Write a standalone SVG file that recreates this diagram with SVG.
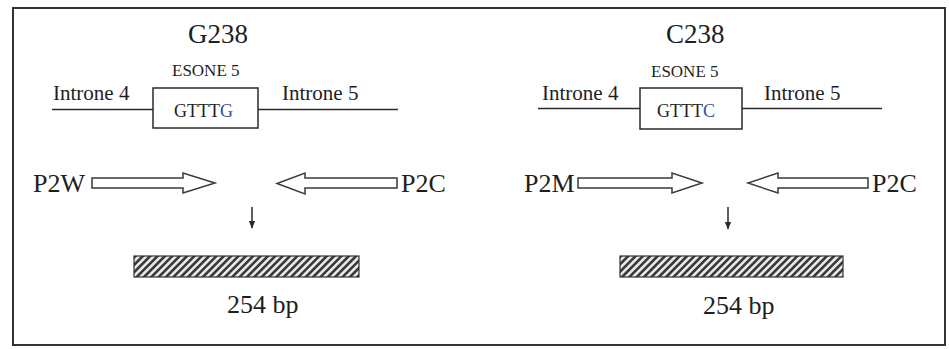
<svg xmlns="http://www.w3.org/2000/svg" width="949" height="349" viewBox="0 0 949 349" font-family="'Liberation Serif', 'DejaVu Serif', serif">
<defs>
<style>
text{font-family:'Liberation Serif','DejaVu Serif',serif;fill:#1e1e1e}
.title{font-size:27px}
.exon{font-size:17px}
.intron{font-size:21px}
.seq{font-size:18px}
.primer{font-size:26px}
.bp{font-size:26px}
.blue{fill:#2f4f9f}
.dna{stroke:#2a2a2a;stroke-width:1.5;fill:none}
.box{stroke:#2a2a2a;stroke-width:1.5;fill:#fff}
.parrow{stroke:#3a3a3a;stroke-width:1.5;fill:#fff;stroke-linejoin:miter}
.down{stroke:#2a2a2a;stroke-width:1.5;fill:none}
.band{fill:url(#hatch);stroke:#333;stroke-width:1.2}
</style>
<pattern id="hatch" patternUnits="userSpaceOnUse" width="5.2" height="5.2" patternTransform="rotate(45)">
<rect width="5.2" height="5.2" fill="#e8e8e8"/>
<rect x="0" y="0" width="2.6" height="5.2" fill="#3a3a3a"/>
</pattern>
<marker id="tip" viewBox="0 0 10 10" refX="9" refY="5" markerWidth="8" markerHeight="8" markerUnits="userSpaceOnUse" orient="auto">
<path d="M0,1 L10,5 L0,9 Z" fill="#2a2a2a"/>
</marker>
</defs>
<rect x="0" y="0" width="949" height="349" fill="#fff"/>
<rect id="frame" x="13" y="8" width="932" height="337" fill="none" stroke="#333" stroke-width="2"/>

<g id="g238">
<text class="title" x="188" y="43">G238</text>
<text class="exon" x="172" y="76">ESONE 5</text>
<text class="intron" x="53" y="100">Introne 4</text>
<text class="intron" x="282" y="100">Introne 5</text>
</g>
<g id="g238-gene">
<rect class="box" x="153" y="88" width="105" height="40"/>
<text class="seq" x="174" y="117">GTTT<tspan class="blue">G</tspan></text>
</g>
<g id="p2w">
<text class="primer" x="33" y="192">P2W</text>
<path class="parrow" d="M92,178 L183,178 L183,173 L215,183 L183,193 L183,188 L92,188 Z"/>
</g>
<g id="p2c-left">
<path class="parrow" d="M397,178 L305,178 L305,173 L277,183.5 L305,194 L305,188 L397,188 Z"/>
<text class="primer" x="401" y="192">P2C</text>
</g>
<g id="band-left">
<rect class="band" x="134" y="256" width="225" height="21"/>
<text class="bp" x="227" y="313">254 bp</text>
</g>

<g id="c238">
<text class="title" x="666" y="43">C238</text>
<text class="exon" x="651" y="77">ESONE 5</text>
<text class="intron" x="542" y="100">Introne 4</text>
<text class="intron" x="764" y="100">Introne 5</text>
</g>
<g id="c238-gene">
<rect class="box" x="640" y="88" width="102" height="41"/>
<text class="seq" x="657" y="117">GTTT<tspan class="blue">C</tspan></text>
</g>
<g id="p2m">
<text class="primer" x="524" y="192">P2M</text>
<path class="parrow" d="M578,178 L672,178 L672,173 L702,183 L672,193 L672,188 L578,188 Z"/>
</g>
<g id="p2c-right">
<path class="parrow" d="M868,178 L778,178 L778,173 L748,183 L778,193 L778,188 L868,188 Z"/>
<text class="primer" x="872" y="192">P2C</text>
</g>
<g id="band-right">
<rect class="band" x="620" y="256" width="223" height="21"/>
<text class="bp" x="703" y="314">254 bp</text>
</g>

<g id="connectors">
<line class="dna" x1="52" y1="109.5" x2="153" y2="109.5"/>
<line class="dna" x1="258" y1="109.5" x2="398" y2="109.5"/>
<line class="dna" x1="538" y1="108.5" x2="640" y2="108.5"/>
<line class="dna" x1="742" y1="108.5" x2="882" y2="108.5"/>
<line class="down" x1="252" y1="207" x2="252" y2="228" marker-end="url(#tip)"/>
<line class="down" x1="728" y1="207" x2="728" y2="229" marker-end="url(#tip)"/>
</g>
</svg>
